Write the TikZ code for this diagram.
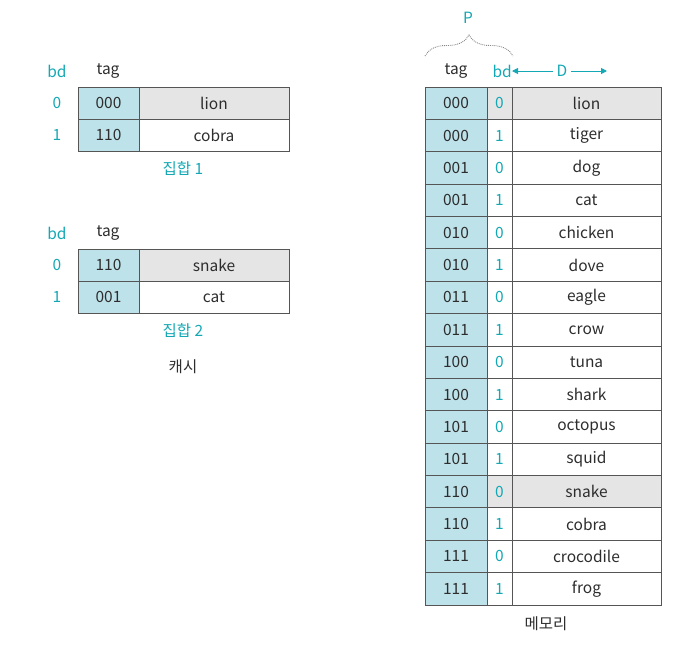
\documentclass[tikz,border=0pt]{standalone}
\usepackage{fontspec}
\setmainfont{Noto Sans CJK KR}
\usetikzlibrary{decorations.pathreplacing,arrows.meta}
\definecolor{teal1}{RGB}{20,168,180}
\definecolor{tagfill}{RGB}{190,226,234}
\definecolor{hlfill}{RGB}{229,229,229}
\definecolor{linec}{RGB}{85,85,85}
\definecolor{txt}{RGB}{45,45,45}
\begin{document}
\begin{tikzpicture}[x=1pt,y=-1pt,
  every node/.style={font=\fontsize{15.5}{17}\selectfont, text=txt},
  cell/.style={draw=linec, line width=0.9pt, inner sep=0pt, minimum height=#1},
  cell/.default=32,
  lab/.style={text=teal1},
  arr/.style={teal1, line width=1pt, -{Triangle[length=6pt,width=6pt]}}]
\useasboundingbox (0,0) rectangle (689,649);

% ---------- cache, set 1 ----------
\node (c1h) at (57,71) [lab] {bd};
\node (c1t) at (108,71) {tag};
\node[cell, minimum width=61, fill=tagfill] (c1a0) at (108.5,103) {000};
\node[cell, minimum width=150, fill=hlfill] (c1b0) at (214,103) {lion};
\node[cell, minimum width=61, fill=tagfill] (c1a1) at (108.5,135) {110};
\node[cell, minimum width=150] (c1b1) at (214,135) {cobra};
\node[lab] (c1r0) at (57,103) {0};
\node[lab] (c1r1) at (57,135) {1};
\node[lab] (set1) at (183,169) {집합 1};

% ---------- cache, set 2 ----------
\node (c2h) at (57,233) [lab] {bd};
\node (c2t) at (108,233) {tag};
\node[cell, minimum width=61, fill=tagfill] (c2a0) at (108.5,265) {110};
\node[cell, minimum width=150, fill=hlfill] (c2b0) at (214,265) {snake};
\node[cell, minimum width=61, fill=tagfill] (c2a1) at (108.5,297) {001};
\node[cell, minimum width=150] (c2b1) at (214,297) {cat};
\node[lab] (c2r0) at (57,265) {0};
\node[lab] (c2r1) at (57,297) {1};
\node[lab] (set2) at (183,331) {집합 2};
\node (cache) at (183,367) {캐시};

% ---------- memory ----------
\node (mt) at (456,71) {tag};
\node[lab, anchor=east, inner sep=0pt] (mb) at (512,71) {bd};
\node[lab] (md) at (562,71) {D};
\coordinate (dend) at (607,71);
\draw[arr] (md.west) -- (mb.east);
\draw[arr] (md.east) -- (dend);
\node[lab] (mp) at (468,18) {P};
\draw[linec!70, densely dotted, line width=0.9pt,
  decorate, decoration={brace, amplitude=21pt}] (425,56) -- (513,56);

\foreach \t/\b/\n [count=\i from 0] in
  {000/0/lion, 000/1/tiger, 001/0/dog, 001/1/cat,
   010/0/chicken, 010/1/dove, 011/0/eagle, 011/1/crow,
   100/0/tuna, 100/1/shark, 101/0/octopus, 101/1/squid,
   110/0/snake, 110/1/cobra, 111/0/crocodile, 111/1/frog}{
  \pgfmathsetmacro{\yy}{87+32.375*(\i+0.5)}
  \ifnum\i=0 \def\hl{hlfill}\else\ifnum\i=12 \def\hl{hlfill}\else\def\hl{white}\fi\fi
  \node[cell=32.375, minimum width=62, fill=tagfill] (mt\i) at (456,\yy) {\t};
  \node[cell=32.375, minimum width=25, fill=\hl, text=teal1] (mb\i) at (499.5,\yy) {\b};
  \node[cell=32.375, minimum width=149, fill=\hl] (mn\i) at (586.5,\yy) {\n};
}
\node (mem) at (546,624) {메모리};
\end{tikzpicture}
\end{document}
